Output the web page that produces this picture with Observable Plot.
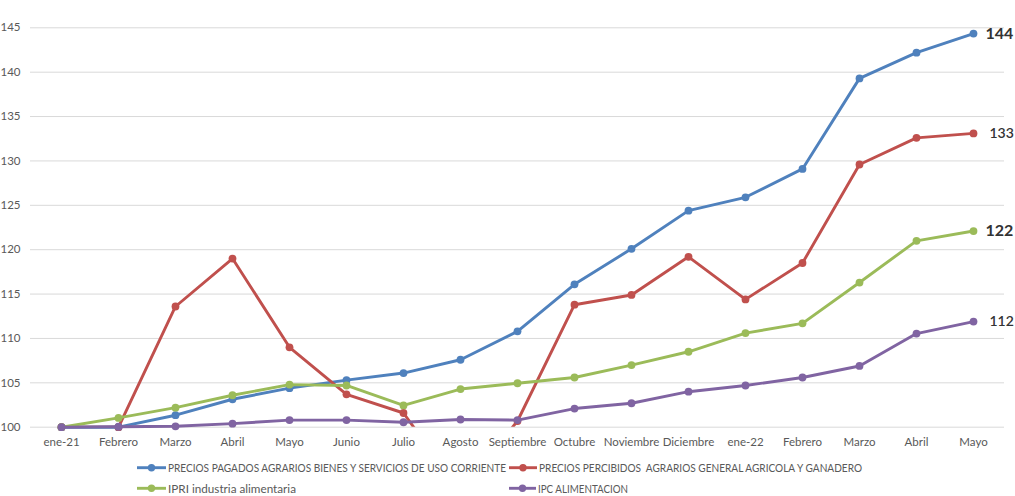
<!DOCTYPE html>
<html>
<head>
<meta charset="utf-8">
<script src="https://cdn.jsdelivr.net/npm/d3@7"></script>
<script src="https://cdn.jsdelivr.net/npm/@observablehq/plot@0.6"></script>
<style>
  html, body { margin: 0; padding: 0; background: #fff; }
  #chart { width: 1015px; height: 496px; position: relative; font-family: Lato, "Open Sans", sans-serif; }
  #legend { display: block; }
</style>
</head>
<body>
<div id="chart"></div>
<script>
const labels = ["ene-21","Febrero","Marzo","Abril","Mayo","Junio","Julio","Agosto","Septiembre","Octubre","Noviembre","Diciembre","ene-22","Febrero","Marzo","Abril","Mayo"];

const seriesNames = [
  "PRECIOS PAGADOS AGRARIOS BIENES Y SERVICIOS DE USO CORRIENTE",
  "PRECIOS PERCIBIDOS  AGRARIOS GENERAL AGRICOLA Y GANADERO",
  "IPRI industria alimentaria",
  "IPC ALIMENTACION"
];
const colors = ["#4f81bd", "#c0504d", "#9bbb59", "#8064a2"];

const pagados    = [100, 100, 101.35, 103.15, 104.4, 105.3, 106.1, 107.6, 110.8, 116.1, 120.1, 124.4, 125.9, 129.1, 139.3, 142.2, 144.35];
const percibidos = [100, 100, 113.6, 119.0, 109.0, 103.7, 101.6, 92.7, 100.7, 113.8, 114.9, 119.2, 114.4, 118.5, 129.6, 132.6, 133.1];
const ipri       = [100, 101.05, 102.2, 103.6, 104.8, 104.7, 102.45, 104.3, 104.95, 105.6, 107.0, 108.5, 110.6, 111.7, 116.3, 121.0, 122.1];
const ipc        = [100, 100.05, 100.1, 100.4, 100.8, 100.8, 100.56, 100.87, 100.8, 102.1, 102.7, 104.0, 104.7, 105.6, 106.9, 110.55, 111.9];

const yTicks = [100, 105, 110, 115, 120, 125, 130, 135, 140, 145];

const allSeries = [pagados, percibidos, ipri, ipc];
const rows = allSeries.flatMap((vals, s) => vals.map((v, i) => ({i, v, s: seriesNames[s], k: s})));
const last = allSeries.map((vals, s) => ({i: vals.length - 1, v: vals[vals.length - 1], s: seriesNames[s], k: s}));

const W = 1015, H = 455;

const marks = [
  Plot.gridY(yTicks, {stroke: "#d9d9d9", strokeOpacity: 1, strokeWidth: 1}),
  Plot.axisY(yTicks, {tickSize: 0, tickPadding: 10, fontSize: 11.5, fill: "#595959", textAnchor: "end", label: null}),
  Plot.axisX(d3.range(labels.length), {tickSize: 0, tickPadding: 11, fontSize: 11.5, fill: "#595959", tickFormat: i => labels[i], label: null})
];
allSeries.forEach((vals, k) => {
  const d = rows.filter(r => r.k === k);
  marks.push(Plot.lineY(d, {x: "i", y: "v", stroke: colors[k], strokeWidth: 2.9, clip: k === 1, curve: "linear"}));
  marks.push(Plot.dot(d.filter(r => r.v >= 100), {x: "i", y: "v", r: 3.9, fill: colors[k], stroke: "none"}));
});
marks.push(Plot.text(last.filter(d => d.k === 0 || d.k === 2), {x: "i", y: "v", text: d => String(Math.round(d.v)), dx: 12, textAnchor: "start", fontSize: 16, fontWeight: "bold", fill: "#333333"}));
marks.push(Plot.text(last.filter(d => d.k === 1 || d.k === 3), {x: "i", y: "v", text: d => String(Math.round(d.v)), dx: 16, textAnchor: "start", fontSize: 14, fontWeight: 600, fill: "#333333"}));

const plot = Plot.plot({
  width: W,
  height: H,
  marginLeft: 30,
  marginRight: 11,
  marginTop: 27.3,
  marginBottom: H - 426.7,
  style: {fontFamily: "Lato, 'Open Sans', sans-serif", background: "#fff", overflow: "visible"},
  x: {type: "point", domain: d3.range(labels.length), padding: 0.5},
  y: {domain: [100, 145]},
  marks
});
document.getElementById("chart").appendChild(plot);

// Legend (below the plot)
const legendPos = [
  {x1: 137, x2: 166, tx: 168, len: 338, y: 12.7},
  {x1: 509, x2: 537, tx: 539, len: 323, y: 12.7},
  {x1: 137, x2: 166, tx: 168, len: 128, y: 33.3},
  {x1: 509, x2: 536, tx: 538, len: 90, y: 33.3}
];
const svgNS = "http://www.w3.org/2000/svg";
const leg = document.createElementNS(svgNS, "svg");
leg.setAttribute("id", "legend");
leg.setAttribute("width", W);
leg.setAttribute("height", 496 - H);
leg.style.fontFamily = "Lato, 'Open Sans', sans-serif";
seriesNames.forEach((name, k) => {
  const p = legendPos[k];
  const ln = document.createElementNS(svgNS, "line");
  ln.setAttribute("x1", p.x1); ln.setAttribute("x2", p.x2);
  ln.setAttribute("y1", p.y); ln.setAttribute("y2", p.y);
  ln.setAttribute("stroke", colors[k]); ln.setAttribute("stroke-width", 2.9);
  leg.appendChild(ln);
  const c = document.createElementNS(svgNS, "circle");
  c.setAttribute("cx", (p.x1 + p.x2) / 2); c.setAttribute("cy", p.y); c.setAttribute("r", 3.7);
  c.setAttribute("fill", colors[k]);
  leg.appendChild(c);
  const t = document.createElementNS(svgNS, "text");
  t.setAttribute("x", p.tx); t.setAttribute("y", p.y);
  t.setAttribute("dy", "0.36em");
  t.setAttribute("font-size", 12);
  t.setAttribute("fill", "#595959");
  t.setAttribute("textLength", p.len);
  t.setAttribute("lengthAdjust", "spacingAndGlyphs");
  t.setAttribute("xml:space", "preserve");
  t.style.whiteSpace = "pre";
  t.textContent = name;
  leg.appendChild(t);
});
document.getElementById("chart").appendChild(leg);
</script>
</body>
</html>
